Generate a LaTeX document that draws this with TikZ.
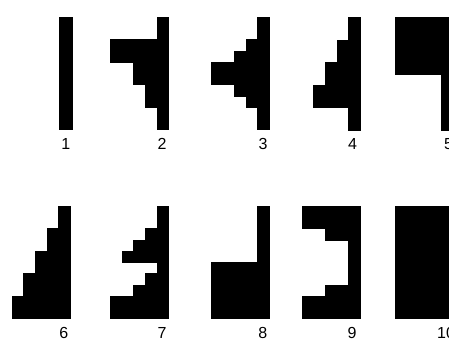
\documentclass[tikz,border=0pt]{standalone}
\usepackage{fontspec}
\setmainfont{Liberation Sans}
\usepackage{tikz}
\usetikzlibrary{positioning}
\newcommand{\digitfont}{\fontsize{16}{16}\selectfont}
\tikzset{
  panel/.style 2 args={shift={(#1pt,-#2pt)}, x=11.65pt, y=-11.25pt},
  cell/.style={fill=black, draw=black, line width=0.3pt},
  digit/.style={font=\digitfont, inner sep=0pt, anchor=center}
}

\begin{document}
\begin{tikzpicture}[x=1pt, y=-1pt]
  \useasboundingbox (0,0) rectangle (449,344);
  % top row
  \begin{scope}[panel={11.7}{17}]
    \fill[cell] (4.08,0) rectangle (5.2,10);
  \end{scope}
  \begin{scope}[panel={110.3}{17}]
    \foreach \ca/\ra/\cb/\rb in {4/0/5/2, 0/2/5/4, 2/4/5/6, 3/6/5/8, 4/8/5/10}
      \fill[cell] (\ca,\ra) rectangle (\cb,\rb);
  \end{scope}
  \begin{scope}[panel={211}{17}]
    \foreach \ca/\ra/\cb/\rb in {4/0/5/2, 3/2/5/3, 2/3/5/4, 0/4/5/6, 2/6/5/7,
        3/7/5/8, 4/8/5/10}
      \fill[cell] (\ca,\ra) rectangle (\cb,\rb);
  \end{scope}
  \begin{scope}[panel={301.7}{17.5}]
    \foreach \ca/\ra/\cb/\rb in {4/0/5/2, 3/2/5/4, 2/4/5/6, 1/6/5/8, 4/8/5/10}
      \fill[cell] (\ca,\ra) rectangle (\cb,\rb);
  \end{scope}
  \begin{scope}[panel={395}{17.5}]
    \foreach \ca/\ra/\cb/\rb in {0/0/5/5, 4/5/5/10}
      \fill[cell] (\ca,\ra) rectangle (\cb,\rb);
  \end{scope}
  % bottom row
  \begin{scope}[panel={11.7}{206}]
    \foreach \ca/\ra/\cb/\rb in {4/0/5/2, 3/2/5/4, 2/4/5/6, 1/6/5/8, 0/8/5/10}
      \fill[cell] (\ca,\ra) rectangle (\cb,\rb);
  \end{scope}
  \begin{scope}[panel={110.3}{206}]
    \foreach \ca/\ra/\cb/\rb in {4/0/5/2, 3/2/5/3, 2/3/5/4, 1/4/5/5, 4/5/5/6,
        3/6/5/7, 2/7/5/8, 0/8/5/10}
      \fill[cell] (\ca,\ra) rectangle (\cb,\rb);
  \end{scope}
  \begin{scope}[panel={211}{206}]
    \foreach \ca/\ra/\cb/\rb in {4/0/5/5, 0/5/5/10}
      \fill[cell] (\ca,\ra) rectangle (\cb,\rb);
  \end{scope}
  \begin{scope}[panel={301.7}{206}]
    \foreach \ca/\ra/\cb/\rb in {0/0/5/2, 2/2/5/3, 4/3/5/7, 2/7/5/8, 0/8/5/10}
      \fill[cell] (\ca,\ra) rectangle (\cb,\rb);
  \end{scope}
  \begin{scope}[panel={395}{206}]
    \fill[cell] (0,0) rectangle (5,10);
  \end{scope}
  \node[digit] (n1) at (65.7,144) {1};
  \node[digit] (n2) at (162,144) {2};
  \node[digit] (n3) at (263,144) {3};
  \node[digit] (n4) at (352.5,144) {4};
  \node[digit] (n5) at (448.5,144) {5};
  \node[digit] (n6) at (63.8,332.5) {6};
  \node[digit] (n7) at (162,332.5) {7};
  \node[digit] (n8) at (262.7,332.5) {8};
  \node[digit] (n9) at (352,332.5) {9};
  \node[digit] (n10) at (446,332.5) {10};
\end{tikzpicture}
\end{document}
